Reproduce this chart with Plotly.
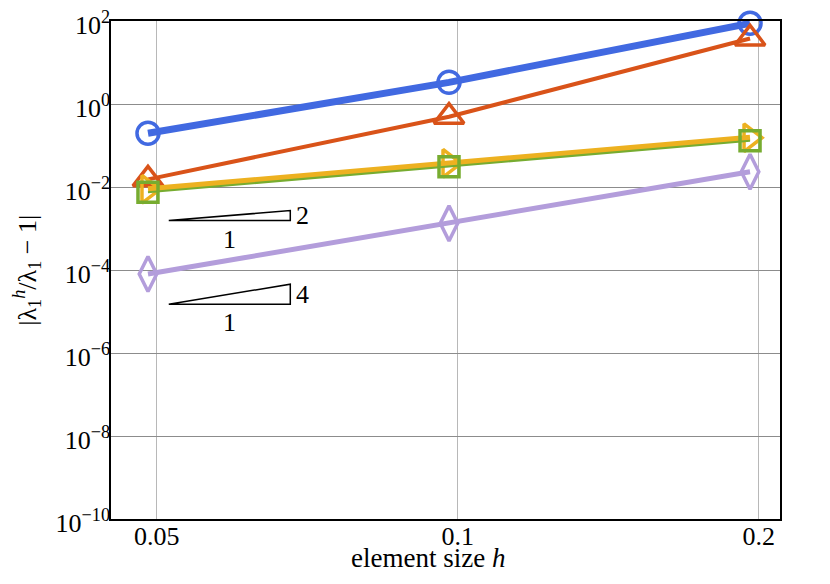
import math
import plotly.graph_objects as go

# ---- data ----
h = [0.049, 0.098, 0.196]
err_blue = [0.197, 3.33, 88.0]
err_orange = [0.0153, 0.494, 38.0]
err_yellow = [0.0088, 0.0372, 0.154]
err_green = [0.0075, 0.0308, 0.131]
err_purple = [8.0e-5, 1.33e-3, 0.0234]

x_tickvals = [0.05, 0.1, 0.2]
x_ticktext = ["0.05", "0.1", "0.2"]
y_tickvals = [1e-10, 1e-8, 1e-6, 1e-4, 1e-2, 1e0, 1e2]
y_ticktext = ["10<sup>−10</sup>", "10<sup>−8</sup>", "10<sup>−6</sup>", "10<sup>−4</sup>",
              "10<sup>−2</sup>", "10<sup>0</sup>", "10<sup>2</sup>"]

# slope triangles: (x_left, x_right, y_bottom, slope)
slope_tris = [(0.0514, 0.068, 1.55e-3, 2), (0.0514, 0.068, 1.49e-5, 4)]

FONT = "Liberation Serif"

series = [
    dict(y=err_blue, color="#4169E1", lw=7, sym="circle-open", ms=22, mlw=3.5),
    dict(y=err_orange, color="#D95319", lw=4, sym="triangle-up-open", ms=26, mlw=3.5),
    dict(y=err_yellow, color="#EDB120", lw=6, sym="triangle-right-open", ms=24, mlw=3.5),
    dict(y=err_green, color="#77AC30", lw=2, sym="square-open", ms=20, mlw=3.5),
    dict(y=err_purple, color="#B39DDB", lw=5, sym="diamond-tall-open", ms=25, mlw=3.5),
]

fig = go.Figure()
for s in series:
    fig.add_trace(go.Scatter(
        x=h, y=s["y"], mode="lines+markers", cliponaxis=False,
        line=dict(color=s["color"], width=s["lw"]),
        marker=dict(symbol=s["sym"], size=s["ms"], color=s["color"],
                    line=dict(width=s["mlw"], color=s["color"])),
        showlegend=False, hoverinfo="skip"))

annotations = []
for (x0, x1, y0, k) in slope_tris:
    y1 = y0 * (x1 / x0) ** k
    fig.add_trace(go.Scatter(
        x=[x0, x1, x1, x0], y=[y0, y0, y1, y0], mode="lines",
        line=dict(color="black", width=1.5), showlegend=False, hoverinfo="skip"))
    ymid = (math.log10(y0) + math.log10(y1)) / 2
    annotations.append(dict(x=math.log10(x1), y=ymid, xref="x", yref="y", text=str(k),
                            showarrow=False, xanchor="left", xshift=4,
                            font=dict(family=FONT, size=26, color="black")))
    xmid = (math.log10(x0) + math.log10(x1)) / 2
    annotations.append(dict(x=xmid, y=math.log10(y0), xref="x", yref="y", text="1",
                            showarrow=False, yanchor="top", yshift=-2,
                            font=dict(family=FONT, size=26, color="black")))

# axis titles as annotations for precise placement
annotations.append(dict(x=0.474, y=-0.078, xref="paper", yref="paper",
                        text="element size <i>h</i>", showarrow=False,
                        xanchor="center", yanchor="middle",
                        font=dict(family=FONT, size=27, color="black")))
annotations.append(dict(x=-0.126, y=0.5, xref="paper", yref="paper",
                        text="|λ<sub>1</sub><sup><i>h</i></sup>/λ<sub>1</sub> − 1|",
                        showarrow=False, textangle=-90,
                        xanchor="center", yanchor="middle",
                        font=dict(family=FONT, size=26, color="black")))

fig.update_layout(
    width=830, height=584,
    margin=dict(l=103, r=58, t=13, b=73, autoexpand=False),
    plot_bgcolor="white", paper_bgcolor="white",
    font=dict(family=FONT, size=26, color="black"),
    annotations=annotations,
)
fig.update_xaxes(
    type="log", range=[math.log10(0.045), math.log10(0.21)],
    tickvals=x_tickvals, ticktext=x_ticktext,
    showgrid=True, gridcolor="#b8b8b8", gridwidth=1,
    showline=True, linecolor="black", linewidth=1.5, mirror=True,
    ticks="", zeroline=False, automargin=False,
    tickfont=dict(size=26), ticklabeloverflow="allow",
    ticklabelstandoff=-7,
)
fig.update_yaxes(
    type="log", range=[-10, 2.0005],
    tickvals=y_tickvals, ticktext=y_ticktext,
    showgrid=True, gridcolor="#8c8c8c", gridwidth=1,
    showline=True, linecolor="black", linewidth=1.5, mirror=True,
    ticks="", zeroline=False, automargin=False,
    tickfont=dict(size=26), ticklabeloverflow="allow",
    ticklabelstandoff=-6, ticklabelshift=4,
)

fig.write_html("out.html")
